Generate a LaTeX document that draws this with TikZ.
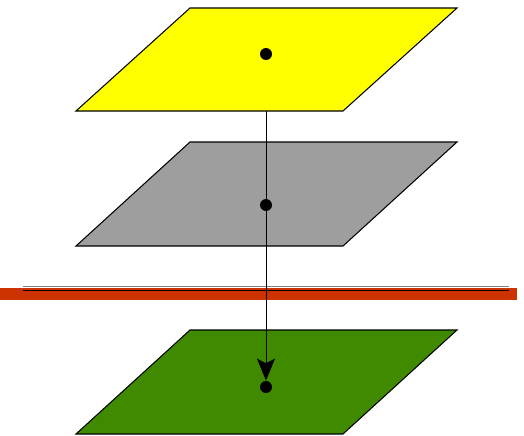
\documentclass[tikz,border=0pt]{standalone}
\usepackage{tikz}
\usetikzlibrary{arrows.meta}

\definecolor{planeY}{RGB}{255,255,0}
\definecolor{planeG}{RGB}{158,158,158}
\definecolor{planeB}{RGB}{64,138,0}
\definecolor{barred}{RGB}{204,51,0}

\pgfdeclarelayer{front}
\pgfsetlayers{main,front}

\begin{document}
\begin{tikzpicture}[x=0.02cm, y=-0.02cm,
    plane/.style={draw=black, line width=0.6pt},
    dot/.style={circle, fill=black, inner sep=0pt, minimum size=0.24cm}]
    \useasboundingbox (0,0) rectangle (524,436);

    % The lower planes
    \filldraw[plane, fill=planeG] (76,246) -- (343,246) -- (457,142) -- (190,142) -- cycle;
    \filldraw[plane, fill=planeB] (76,434) -- (343,434) -- (457,330) -- (190,330) -- cycle;

    % The bar and its double line
    \fill[barred] (0,288) rectangle (517,300);
    \draw[gray, line width=0.5pt] (23,286.7) -- (509,286.7);
    \draw[black, line width=0.5pt] (23,290) -- (509,290);

    % The top plane covers the connector
    \begin{pgfonlayer}{front}
    \filldraw[plane, fill=planeY] (76,111) -- (343,111) -- (457,8) -- (190,8) -- cycle;
    \node[dot] (pTop) at (266,54) {};
    \end{pgfonlayer}

    % Place the dots
    \node[dot] (pMid) at (266,205) {};
    \node[dot] (pBot) at (266,387) {};

    % Draw the connectors
    \draw[line width=0.5pt] (pTop) -- (pMid);
    \draw[line width=0.5pt, -{Stealth[length=0.44cm, width=0.36cm, inset=0.09cm]}] (pMid) -- (pBot);
\end{tikzpicture}
\end{document}
